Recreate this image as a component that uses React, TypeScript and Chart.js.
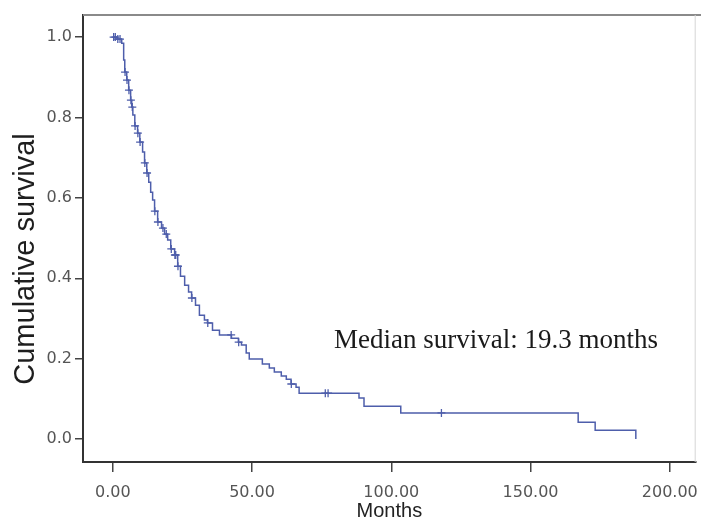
import React, { useEffect, useRef } from "react";
import { Chart, registerables } from "chart.js";

Chart.register(...registerables);

// Kaplan-Meier step curve: event times (months) and survival after each event
const months = [
  0, 1.5, 3.2, 3.9, 4.3, 5.0, 5.7, 6.4, 6.8, 7.2, 7.9, 8.9, 9.7, 10.7, 11.4,
  12.2, 12.9, 13.6, 14.3, 15.0, 16.1, 17.5, 18.6, 19.7, 20.8, 22.2, 23.3,
  24.3, 25.8, 27.2, 28.3, 29.7, 31.1, 32.9, 34.0, 35.8, 38.3, 42.6, 45.1,
  46.2, 47.9, 49.0, 53.7, 56.2, 58.0, 60.5, 62.3, 64.0, 65.8, 66.9, 88.4,
  90.2, 103.4, 167.1, 173.2, 187.8,
];
const survival = [
  1.0, 0.995, 0.985, 0.943, 0.913, 0.893, 0.868, 0.843, 0.826, 0.806, 0.779,
  0.761, 0.739, 0.714, 0.687, 0.662, 0.639, 0.614, 0.595, 0.567, 0.54, 0.525,
  0.51, 0.495, 0.473, 0.458, 0.43, 0.405, 0.383, 0.366, 0.351, 0.333, 0.308,
  0.296, 0.289, 0.271, 0.259, 0.251, 0.241, 0.234, 0.214, 0.199, 0.187, 0.177,
  0.167, 0.157, 0.149, 0.137, 0.129, 0.114, 0.102, 0.082, 0.065, 0.042, 0.022,
  0.0,
];
// censored observations (months)
const censorMonths = [
  0.3, 0.9, 1.8, 2.6, 4.4, 5.1, 5.8, 6.5, 7.0, 8.0, 9.0, 9.8, 11.5, 12.3, 15.1,
  16.2, 18.0, 19.2, 21.0, 22.3, 22.6, 23.4, 28.4, 34.1, 42.5, 45.2, 64.1, 76.3,
  77.3, 118.0,
];

const xTicks = [0, 50, 100, 150, 200];
const yTicks = [0, 0.2, 0.4, 0.6, 0.8, 1.0];
const xTitle = "Months";
const yTitle = "Cumulative survival";
const noteText = "Median survival: 19.3 months";
const noteAnchor = [79.4, 0.227];

const LINE = "#4e5eab";

function survivalAt(t: number): number {
  let s = survival[0];
  for (let i = 0; i < months.length; i++) if (months[i] <= t) s = survival[i];
  return s;
}

const overlay = {
  id: "overlay",
  afterDraw(chart: any) {
    const { ctx, chartArea: a, scales } = chart;
    ctx.save();
    ctx.strokeStyle = "#8a8a8a";
    ctx.lineWidth = 2;
    ctx.beginPath();
    ctx.moveTo(a.left, a.top);
    ctx.lineTo(701, a.top);
    ctx.stroke();
    ctx.strokeStyle = "#d6d6d6";
    ctx.lineWidth = 1;
    ctx.beginPath();
    ctx.moveTo(a.right - 0.5, a.top);
    ctx.lineTo(a.right - 0.5, a.bottom);
    ctx.stroke();

    ctx.fillStyle = "#1a1a1a";
    ctx.font = '27px "Liberation Serif", "Times New Roman", serif';
    ctx.textAlign = "left";
    ctx.textBaseline = "alphabetic";
    ctx.fillText(
      noteText,
      scales.x.getPixelForValue(noteAnchor[0]),
      scales.y.getPixelForValue(noteAnchor[1])
    );

    ctx.translate(26, 259);
    ctx.rotate(-Math.PI / 2);
    ctx.fillStyle = "#1e1e1e";
    ctx.font = '29px "Liberation Sans", Arial, sans-serif';
    ctx.textAlign = "center";
    ctx.textBaseline = "middle";
    ctx.fillText(yTitle, 0, 0);
    ctx.restore();
  },
};

export default function App() {
  const ref = useRef<HTMLCanvasElement | null>(null);
  useEffect(() => {
    if (!ref.current) return;
    const chart = new Chart(ref.current, {
      type: "line",
      data: {
        datasets: [
          {
            data: months.map((m, i) => ({ x: m, y: survival[i] })),
            stepped: true,
            borderColor: LINE,
            borderWidth: 1.5,
            pointRadius: 0,
            fill: false,
          },
          {
            type: "scatter",
            data: censorMonths.map((m) => ({ x: m, y: survivalAt(m) })),
            pointStyle: "cross",
            pointRadius: 4,
            borderColor: LINE,
            borderWidth: 1.3,
            showLine: false,
          } as any,
        ],
      },
      options: {
        responsive: false,
        animation: false,
        layout: { padding: { top: 15, right: 3, left: 0, bottom: 0 } },
        plugins: { legend: { display: false }, tooltip: { enabled: false } },
        scales: {
          x: {
            type: "linear",
            min: -10.7,
            max: 209.3,
            afterBuildTicks: (s: any) => {
              s.ticks = xTicks.map((v) => ({ value: v }));
            },
            afterFit: (s: any) => {
              s.height = 58;
              s.paddingLeft = 0;
              s.paddingRight = 0;
            },
            ticks: {
              callback: (v: any) => Number(v).toFixed(2),
              font: { family: '"DejaVu Sans", sans-serif', size: 16 },
              color: "#555",
              padding: 11,
              maxRotation: 0,
            },
            grid: {
              drawOnChartArea: false,
              drawTicks: true,
              tickLength: 10,
              color: "#444",
              lineWidth: 1.5,
            },
            border: { display: true, color: "#333", width: 2 },
            title: {
              display: true,
              text: xTitle,
              color: "#222",
              font: { family: '"Liberation Sans", Arial, sans-serif', size: 20 },
              padding: { top: 0, bottom: -3 },
            },
          },
          y: {
            type: "linear",
            min: -0.057,
            max: 1.055,
            afterBuildTicks: (s: any) => {
              s.ticks = yTicks.map((v) => ({ value: v }));
            },
            afterFit: (s: any) => {
              s.width = 83;
              s.paddingTop = 0;
              s.paddingBottom = 0;
            },
            ticks: {
              callback: (v: any) => Number(v).toFixed(1),
              font: { family: '"DejaVu Sans", sans-serif', size: 16 },
              color: "#555",
              padding: 3,
            },
            grid: {
              drawOnChartArea: false,
              drawTicks: true,
              tickLength: 8,
              color: "#444",
              lineWidth: 1.5,
            },
            border: { display: true, color: "#333", width: 2 },
          },
        },
      },
      plugins: [overlay],
    });
    return () => chart.destroy();
  }, []);
  return (
    <div style={{ position: "absolute", left: 0, top: 0, width: 701, height: 520, background: "#fff" }}>
      <canvas ref={ref} width={701} height={520} style={{ display: "block" }} />
    </div>
  );
}
